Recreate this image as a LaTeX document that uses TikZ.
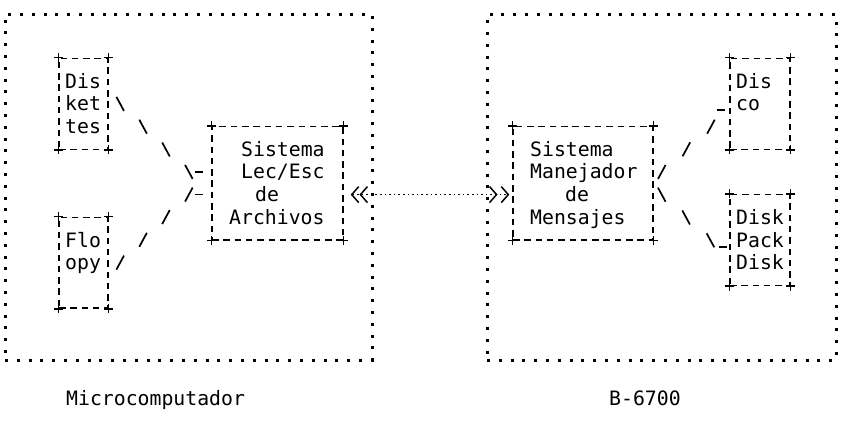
\documentclass[tikz,border=0pt]{standalone}
\usepackage{fontspec}
\newfontfamily\dotfont{DejaVu Sans Mono}
\usetikzlibrary{arrows.meta,decorations.markings}
\newcommand\gbs{\pgftransformresetnontranslations\draw[glyph] (-3.8,-7) -- (3.8,7);}
\newcommand\gfs{\pgftransformresetnontranslations\draw[glyph] (-3.8,7) -- (3.8,-7);}
\newcommand\ghy[1]{\pgftransformresetnontranslations\draw[glyph] ({#1-3.8},0) -- ({#1+3.8},0);}
\begin{document}
\begin{tikzpicture}[x=1pt,y=-1pt,
  declare function={row(\r)=13+22.7*\r;},
  frame/.style={rectangle, draw, line width=3pt, dash pattern=on 3pt off 8.8pt, inner sep=0pt},
  box/.style={rectangle, draw, line width=1.4pt, dash pattern=on 6.5pt off 4.8pt, inner sep=0pt},
  plusmk/.style={line width=1.4pt},
  lbl/.style={font=\dotfont\fontsize{19.8pt}{22.7pt}\selectfont, inner sep=0pt, anchor=base west},
  glyph/.style={line width=1.7pt, line cap=butt},
  chev/.style={Straight Barb[length=7pt,width=16pt,line width=1.6pt]},
  link/.style={line width=1.5pt, dash pattern=on 1.6pt off 3pt, shorten <=4pt, shorten >=3pt,
    arrows={Straight Barb[length=7pt,width=16pt,sep=3pt]Straight Barb[length=7pt,width=16pt]-Straight Barb[length=7pt,width=16pt,sep=3pt]Straight Barb[length=7pt,width=16pt]}}
]
\fill[white] (0,0) rectangle (843,423);
\useasboundingbox (0,0) rectangle (843,423);

% frames
\node[frame, minimum width=367pt, minimum height=346pt] (fl) at (188.5,187) {};
\node[frame, minimum width=349pt, minimum height=346pt] (fr) at (661.5,187) {};

% boxes
\node[box, minimum width=49pt, minimum height=90.8pt] (disk) at (83.5,{row(4)}) {};
\node[box, minimum width=49pt, minimum height=90.8pt] (flo) at (83.5,{row(11)}) {};
\node[box, minimum width=131pt, minimum height=113.5pt] (sisL) at (277.5,{row(7.5)}) {};
\node[box, minimum width=140pt, minimum height=113.5pt] (sisR) at (583,{row(7.5)}) {};
\node[box, minimum width=60pt, minimum height=90.8pt] (disco) at (760,{row(4)}) {};
\node[box, minimum width=60pt, minimum height=90.8pt] (pack) at (760,{row(10)}) {};

\foreach \n in {disk,flo,sisL,sisR,disco,pack}
  \foreach \a in {north west,north east,south west,south east}
    \draw[plusmk] (\n.\a) +(-4.5,0) -- +(4.5,0) +(0,-4.5) -- +(0,4.5);

% labels
\node[lbl] (tD1) at (65,{row(3)+7}) {Dis};
\node[lbl] (tD2) at (65,{row(4)+7}) {ket};
\node[lbl] (tD3) at (65,{row(5)+7}) {tes};
\node[lbl] (tF1) at (65,{row(10)+7}) {Flo};
\node[lbl] (tF2) at (65,{row(11)+7}) {opy};
\node[lbl] (tL1) at (241,{row(6)+7}) {Sistema};
\node[lbl] (tL2) at (241,{row(7)+7}) {Lec/Esc};
\node[lbl] (tL3) at (255,{row(8)+7}) {de};
\node[lbl] (tL4) at (229,{row(9)+7}) {Archivos};
\node[lbl] (tR1) at (530,{row(6)+7}) {Sistema};
\node[lbl] (tR2) at (530,{row(7)+7}) {Manejador};
\node[lbl] (tR3) at (565,{row(8)+7}) {de};
\node[lbl] (tR4) at (530,{row(9)+7}) {Mensajes};
\node[lbl] (tC1) at (736,{row(3)+7}) {Dis};
\node[lbl] (tC2) at (736,{row(4)+7}) {co};
\node[lbl] (tP1) at (736,{row(9)+7}) {Disk};
\node[lbl] (tP2) at (736,{row(10)+7}) {Pack};
\node[lbl] (tP3) at (736,{row(11)+7}) {Disk};
\node[lbl] (cap1) at (66,{row(17)+7}) {Microcomputador};
\node[lbl] (cap2) at (609,{row(17)+7}) {B-6700};

% helper coordinates
\coordinate (m) at (0,{row(8)});
\coordinate (sA) at (0,92.45);
\coordinate (kA) at (188.5,{row(7)});
\coordinate (sD) at (0,274.05);
\coordinate (kD) at (188.5,{row(8)});
\coordinate (sB) at (0,179.4);
\coordinate (eB) at (0,109.8);
\coordinate (sC) at (0,187.1);
\coordinate (kC) at (717.4,246.8);

% connectors
\draw[link] (sisL.east |- m) -- (sisR.west |- m);

\path[decoration={markings,
    mark=at position 16.2pt with {\gbs},
    mark=at position 48.5pt with {\gbs},
    mark=at position 80.8pt with {\gbs},
    mark=at position 112.8pt with {\gbs},
    mark=at position 123.1pt with {\ghy{0}}}, decorate]
  (disk.east |- sA) -- (kA) -- (sisL.west |- kA);

\path[decoration={markings,
    mark=at position 16.2pt with {\gfs},
    mark=at position 48.5pt with {\gfs},
    mark=at position 80.8pt with {\gfs},
    mark=at position 112.8pt with {\gfs},
    mark=at position 123.1pt with {\ghy{0}}}, decorate]
  (flo.east |- sD) -- (kD) -- (sisL.west |- kD);

\path[decoration={markings,
    mark=at position 11pt with {\gfs},
    mark=at position 44.4pt with {\gfs},
    mark=at position 77.8pt with {\gfs},
    mark=at position 1 with {\ghy{-8.5}}}, decorate]
  (sisR.east |- sB) -- (disco.west |- eB);

\path[decoration={markings,
    mark=at position 11pt with {\gbs},
    mark=at position 44.4pt with {\gbs},
    mark=at position 77.8pt with {\gbs},
    mark=at position 92.4pt with {\ghy{0}}}, decorate]
  (sisR.east |- sC) -- (kC) -- (pack.west |- kC);
\end{tikzpicture}
\end{document}
